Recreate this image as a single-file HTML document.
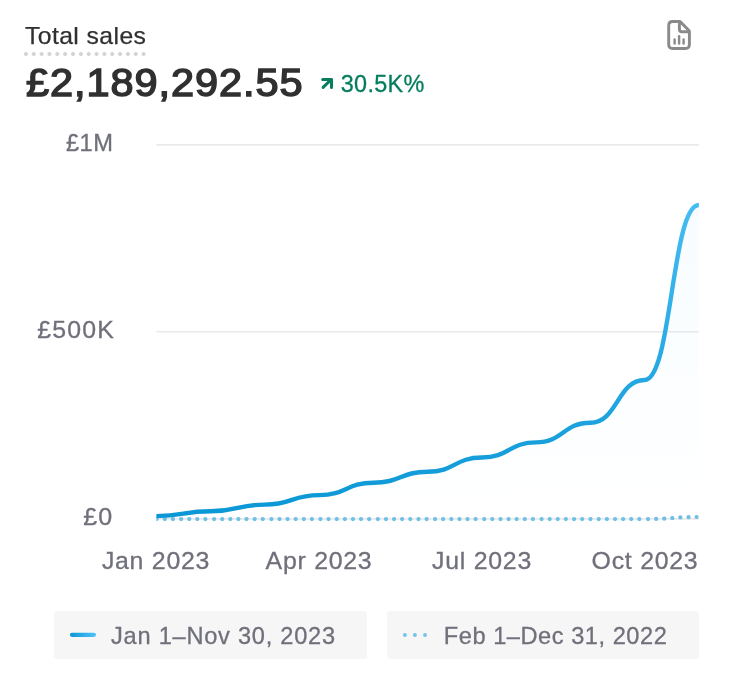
<!DOCTYPE html>
<html lang="en">
<head>
<meta charset="utf-8">
<title>Total sales</title>
<style>
  html, body { margin: 0; padding: 0; background: #ffffff; }
  body { width: 735px; height: 675px; position: relative; overflow: hidden;
    font-family: "Liberation Sans", sans-serif; -webkit-font-smoothing: antialiased; }
  .abs { position: absolute; white-space: nowrap; line-height: 1; }
  #title { left: 24.6px; top: 23.9px; font-size: 24px; color: #303030; -webkit-text-stroke: 0.25px #303030; letter-spacing: 0.4px; transform: scaleX(1.03); transform-origin: 0 0; }
  #title-ul { position: absolute; left: 24.3px; top: 52px; width: 122px; height: 4px;
    background-image: radial-gradient(circle at 1.9px 2px, #d3d3d3 1.7px, rgba(211,211,211,0) 2.2px);
    background-size: 7.85px 4px; background-repeat: repeat-x; }
  #total { left: 26.1px; top: 62.5px; font-size: 39.5px; color: #303030; -webkit-text-stroke: 1.5px #303030; letter-spacing: 0.9px; transform: scaleX(1.05); transform-origin: 0 0; }
  #delta { left: 340.8px; top: 72.8px; font-size: 23.4px; color: #067d5d; letter-spacing: 0.3px; -webkit-text-stroke: 0.3px #067d5d; transform: scaleX(1.0); transform-origin: 0 0; }
  .ylab { right: 623.8px; font-size: 23.7px; color: #70707b; -webkit-text-stroke: 0.3px #70707b; text-align: right; transform-origin: 100% 0; }
  .xlab { font-size: 23.7px; color: #70707b; -webkit-text-stroke: 0.3px #70707b; letter-spacing: 0.7px; transform: translateX(-50%) scaleX(1.05); transform-origin: 50% 0; top: 549.8px; }
  .legend { position: absolute; top: 611px; height: 47.6px; background: #f6f6f7; border-radius: 3.2px; }
  .legend span { position: absolute; top: 14.0px; font-size: 23.6px; color: #70707b; -webkit-text-stroke: 0.3px #70707b; white-space: nowrap; line-height: 1; transform: scaleX(1.0); transform-origin: 0 0; }
  svg { position: absolute; left: 0; top: 0; }
</style>
</head>
<body>
<div class="abs" id="title">Total sales</div>
<div id="title-ul"></div>
<div class="abs" id="total">£2,189,292.55</div>
<div class="abs" id="delta">30.5K%</div>

<div class="abs ylab" style="top:131.7px;letter-spacing:0.5px;margin-right:-2.3px;transform:scaleX(1.0)">£1M</div>
<div class="abs ylab" style="top:318.7px;letter-spacing:1.1px;margin-right:-3.4px;transform:scaleX(1.05)">£500K</div>
<div class="abs ylab" style="top:506.3px;letter-spacing:0.8px;margin-right:-1.6px;transform:scaleX(1.06)">£0</div>

<div class="abs xlab" style="left:156px">Jan 2023</div>
<div class="abs xlab" style="left:318.8px">Apr 2023</div>
<div class="abs xlab" style="left:481.8px">Jul 2023</div>
<div class="abs xlab" style="left:644.6px">Oct 2023</div>

<div class="legend" style="left:54px;width:312.8px"><span style="left:57px;letter-spacing:0.76px">Jan 1–Nov 30, 2023</span></div>
<div class="legend" style="left:387.2px;width:311.7px"><span style="left:56.6px;letter-spacing:0.54px">Feb 1–Dec 31, 2022</span></div>

<svg width="735" height="675" viewBox="0 0 735 675">
  <defs>
    <linearGradient id="lg" gradientUnits="userSpaceOnUse" x1="0" y1="519" x2="0" y2="145">
      <stop offset="0" stop-color="#0a97d5"/>
      <stop offset="1" stop-color="#50c3f7"/>
    </linearGradient>
    <linearGradient id="ag" gradientUnits="userSpaceOnUse" x1="0" y1="205" x2="0" y2="519">
      <stop offset="0" stop-color="#45bdf3" stop-opacity="0.04"/>
      <stop offset="1" stop-color="#45bdf3" stop-opacity="0"/>
    </linearGradient>
    <clipPath id="cp"><rect x="156.4" y="100" width="542.45" height="440"/></clipPath>
    <linearGradient id="kg" gradientUnits="userSpaceOnUse" x1="70" y1="0" x2="96" y2="0">
      <stop offset="0" stop-color="#0a97d5"/>
      <stop offset="1" stop-color="#50c3f7"/>
    </linearGradient>
  </defs>
  <!-- gridlines -->
  <g stroke="#e9e9eb" stroke-width="1.6">
    <line x1="156.4" y1="144.9" x2="698.85" y2="144.9"/>
    <line x1="156.4" y1="331.8" x2="698.85" y2="331.8"/>
    <line x1="156.4" y1="518.9" x2="698.85" y2="518.9"/>
  </g>
  <!-- area -->
  <path d="M156.40 516.10 C183.52 516.10 183.52 511.30 210.65 511.30 C237.77 511.30 237.77 504.60 264.89 504.60 C292.01 504.60 292.01 495.10 319.13 495.10 C346.26 495.10 346.26 482.70 373.38 482.70 C400.50 482.70 400.50 471.80 427.62 471.80 C454.75 471.80 454.75 457.50 481.87 457.50 C508.99 457.50 508.99 442.40 536.12 442.40 C563.24 442.40 563.24 422.70 590.36 422.70 C617.48 422.70 617.48 380.00 644.61 380.00 C671.73 380.00 671.73 205.00 698.85 205.00 L698.85 518.9 L156.40 518.9 Z" fill="url(#ag)"/>
  <!-- comparison dotted -->
  <path clip-path="url(#cp)" d="M156.40 519.10 C183.52 519.10 183.52 519.10 210.65 519.10 C237.77 519.10 237.77 519.10 264.89 519.10 C292.01 519.10 292.01 519.10 319.13 519.10 C346.26 519.10 346.26 519.10 373.38 519.10 C400.50 519.10 400.50 519.10 427.62 519.10 C454.75 519.10 454.75 519.10 481.87 519.10 C508.99 519.10 508.99 519.10 536.12 519.10 C563.24 519.10 563.24 519.10 590.36 519.10 C617.48 519.10 617.48 519.10 644.61 519.10 C671.73 519.10 671.73 517.00 698.85 517.00" fill="none" stroke="#70c0e6" stroke-width="4.2" stroke-linecap="round" stroke-dasharray="0.1 8.087" stroke-dashoffset="-0.1"/>
  <!-- main line -->
  <path d="M156.40 516.10 C183.52 516.10 183.52 511.30 210.65 511.30 C237.77 511.30 237.77 504.60 264.89 504.60 C292.01 504.60 292.01 495.10 319.13 495.10 C346.26 495.10 346.26 482.70 373.38 482.70 C400.50 482.70 400.50 471.80 427.62 471.80 C454.75 471.80 454.75 457.50 481.87 457.50 C508.99 457.50 508.99 442.40 536.12 442.40 C563.24 442.40 563.24 422.70 590.36 422.70 C617.48 422.70 617.48 380.00 644.61 380.00 C671.73 380.00 671.73 205.00 698.85 205.00" fill="none" stroke="url(#lg)" stroke-width="4.4" stroke-linejoin="round"/>
  <!-- legend keys -->
  <line x1="72" y1="634.8" x2="94" y2="634.8" stroke="url(#kg)" stroke-width="4.2" stroke-linecap="round"/>
  <g fill="#74c3e8">
    <circle cx="404.9" cy="635" r="1.95"/><circle cx="414.9" cy="635" r="1.95"/><circle cx="425" cy="635" r="1.95"/>
  </g>
  <!-- trend arrow -->
  <g fill="none" stroke="#067d5d" stroke-width="3" stroke-linecap="round" stroke-linejoin="round">
    <path d="M323.1 87.4 L331.2 79.5"/>
    <path d="M322.7 79.4 H331.5 V87.5"/>
  </g>
  <!-- report icon -->
  <g fill="none" stroke="#8a8a8a" stroke-width="2.9" stroke-linejoin="round" stroke-linecap="round">
    <path d="M672.7 21.5 H679.4 Q680.0 21.5 680.4 21.9 L689.0 30.5 Q689.4 30.9 689.4 31.5 V44.5 Q689.4 48.5 685.4 48.5 H672.7 Q668.7 48.5 668.7 44.5 V25.5 Q668.7 21.5 672.7 21.5 Z"/>
    <path d="M679.4 22 V29.2 Q679.4 31.7 681.9 31.7 H688.9"/>
    <g stroke-width="2.4">
      <line x1="674.6" y1="39.4" x2="674.6" y2="43.5"/>
      <line x1="679.1" y1="36.2" x2="679.1" y2="43.5"/>
      <line x1="683.6" y1="39.4" x2="683.6" y2="43.5"/>
    </g>
  </g>
</svg>
</body>
</html>
